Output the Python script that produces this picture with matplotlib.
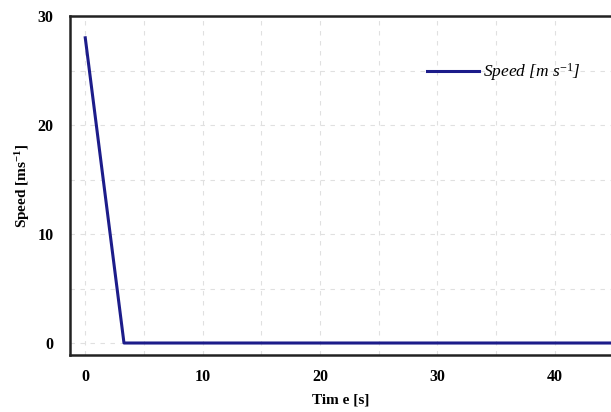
import numpy as np
import matplotlib.pyplot as plt

# data
time = [0, 3.3, 10, 20, 30, 40, 44.8]
speed = [28, 0, 0, 0, 0, 0, 0]

xticks = [0, 10, 20, 30, 40]
yticks = [0, 10, 20, 30]


def main():
    plt.rcParams['font.family'] = ['Liberation Serif', 'DejaVu Serif']
    plt.rcParams['mathtext.fontset'] = 'custom'
    plt.rcParams['mathtext.rm'] = 'Liberation Serif'
    plt.rcParams['mathtext.it'] = 'Liberation Serif:italic'
    plt.rcParams['mathtext.bf'] = 'Liberation Serif:bold'

    fig = plt.figure(figsize=(6.11, 4.12), dpi=100)
    ax = fig.add_axes([70 / 611, 57 / 412, 541 / 611, 339 / 412])

    ax.plot(time, speed, color='#1c1c8a', linewidth=2.2,
            label=r'Speed [m s$^{-1}$]')

    ax.set_xlim(-1.3, 44.8)
    ax.set_ylim(-1.1, 30)
    ax.set_xticks(xticks)
    ax.set_yticks(yticks)
    ax.set_xticks(np.arange(0, 45, 5), minor=True)
    ax.set_yticks(np.arange(0, 30, 5), minor=True)
    ax.tick_params(which='both', length=0)
    ax.tick_params(axis='x', pad=10)
    ax.tick_params(axis='y', pad=12)
    for lab in ax.get_xticklabels() + ax.get_yticklabels():
        lab.set_fontweight('bold')
        lab.set_fontsize(11.5)

    ax.grid(which='both', color='#e0e0e0', linestyle=(0, (4, 5)), linewidth=0.8)
    ax.set_axisbelow(True)

    ax.spines['right'].set_visible(False)
    for s in ['left', 'top', 'bottom']:
        ax.spines[s].set_linewidth(1.8)
        ax.spines[s].set_color('#222222')

    ax.set_xlabel('Tim e [s]', fontweight='bold', fontsize=11, labelpad=6)
    ax.set_ylabel(r'Speed [ms$^{\mathbf{-1}}$]', fontweight='bold', fontsize=11, labelpad=4)

    ax.legend(loc='center left', bbox_to_anchor=(0.66, 0.835), frameon=False,
              borderpad=0, borderaxespad=0,
              handlelength=3.0, handletextpad=0.2,
              prop={'family': 'Liberation Serif', 'style': 'italic', 'size': 12.5})

    fig.savefig('out.png', dpi=100)


if __name__ == '__main__':
    main()
